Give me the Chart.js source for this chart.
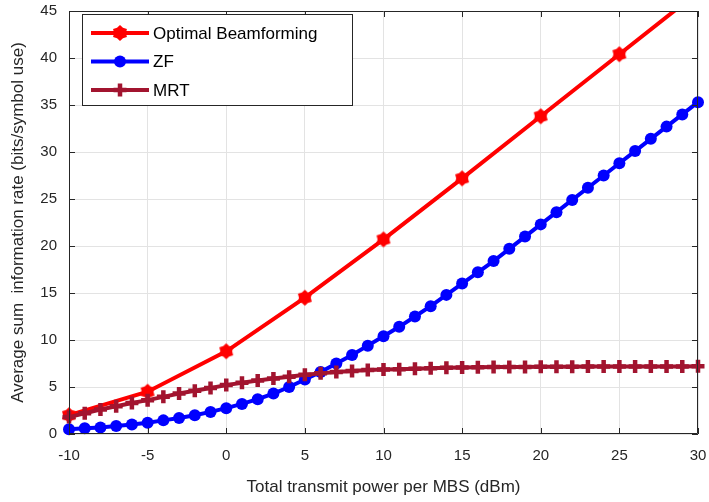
<!DOCTYPE html>
<html>
<head>
<meta charset="utf-8">
<script src="https://cdn.jsdelivr.net/npm/chart.js@4/dist/chart.umd.min.js"></script>
<style>
  html, body { margin: 0; padding: 0; background: #fff; }
  #wrap { width: 709px; height: 502px; }
</style>
</head>
<body>
<div id="wrap"><canvas id="rateChart"></canvas></div>
<script>
const optimalColor = '#FF0000'
const zfColor = '#0000FF'
const mrtColor = '#A2142F'
const axisColor = '#262626'

// data
const seriesNames = ['Optimal Beamforming', 'ZF', 'MRT']
const optimalPower = [-10, -5, 0, 5, 10, 15, 20, 25, 30]
const optimalRate = [2.0, 4.5, 8.8, 14.5, 20.7, 27.2, 33.8, 40.4, 47.0]
const powerDbm = [-10, -9, -8, -7, -6, -5, -4, -3, -2, -1, 0, 1, 2, 3, 4, 5, 6, 7, 8, 9, 10,
  11, 12, 13, 14, 15, 16, 17, 18, 19, 20, 21, 22, 23, 24, 25, 26, 27, 28, 29, 30]
const zfRate = [0.5, 0.6, 0.7, 0.85, 1.0, 1.2, 1.45, 1.7, 2.0, 2.35, 2.75, 3.2, 3.7, 4.3, 5.0,
  5.8, 6.6, 7.5, 8.4, 9.4, 10.4, 11.4, 12.5, 13.6, 14.8, 16.0, 17.2, 18.4, 19.7, 21.0, 22.3,
  23.6, 24.9, 26.2, 27.5, 28.8, 30.1, 31.4, 32.7, 34.0, 35.3]
const mrtRate = [1.8, 2.2, 2.6, 2.95, 3.3, 3.6, 3.95, 4.3, 4.6, 4.9, 5.2, 5.45, 5.7, 5.9, 6.1,
  6.3, 6.45, 6.6, 6.7, 6.8, 6.85, 6.9, 6.95, 7.0, 7.05, 7.08, 7.1, 7.12, 7.13, 7.14, 7.15,
  7.16, 7.16, 7.17, 7.17, 7.18, 7.18, 7.18, 7.19, 7.19, 7.2]
const xTicks = [-10, -5, 0, 5, 10, 15, 20, 25, 30]
const yTicks = [0, 5, 10, 15, 20, 25, 30, 35, 40, 45]

function toPoints(xs, ys) {
  return xs.map((x, i) => ({ x: x, y: ys[i] }))
}

//filled six-point star like matlab's hexagram marker
function hexagram(r, color) {
  const c = document.createElement('canvas')
  const s = Math.ceil(r * 2 + 2)
  c.width = s
  c.height = s
  const g = c.getContext('2d')
  g.fillStyle = color
  g.beginPath()
  for (let i = 0; i < 12; i++) {
    const a = -Math.PI / 2 + i * Math.PI / 6
    const rr = i % 2 === 0 ? r : r * 0.74
    g.lineTo(s / 2 + rr * Math.cos(a), s / 2 + rr * Math.sin(a))
  }
  g.closePath()
  g.fill()
  return c
}
const starMarker = hexagram(8, optimalColor)

// box, inward ticks and legend, drawn after the chart
const matlabAxes = {
  id: 'matlabAxes',
  afterDatasetsDraw(chart) {
    const ctx = chart.ctx
    const a = chart.chartArea
    const xs = chart.scales.x
    const ys = chart.scales.y
    ctx.save()
    ctx.strokeStyle = axisColor
    ctx.lineWidth = 1
    ctx.beginPath()
    ctx.rect(a.left + 0.5, a.top + 0.5, a.right - a.left - 1, a.bottom - a.top - 1)
    xTicks.forEach(v => {
      const px = Math.round(xs.getPixelForValue(v)) + 0.5
      ctx.moveTo(px, a.bottom); ctx.lineTo(px, a.bottom - 6)
      ctx.moveTo(px, a.top); ctx.lineTo(px, a.top + 6)
    })
    yTicks.forEach(v => {
      const py = Math.round(ys.getPixelForValue(v)) + 0.5
      ctx.moveTo(a.left, py); ctx.lineTo(a.left + 6, py)
      ctx.moveTo(a.right, py); ctx.lineTo(a.right - 6, py)
    })
    ctx.stroke()

    // legend
    const lx = 82, ly = 14, lw = 270, lh = 91
    ctx.fillStyle = '#fff'
    ctx.fillRect(lx, ly, lw, lh)
    ctx.strokeRect(lx + 0.5, ly + 0.5, lw, lh)
    const colors = [optimalColor, zfColor, mrtColor]
    ctx.font = '17px "Liberation Sans", Arial, sans-serif'
    ctx.textBaseline = 'middle'
    seriesNames.forEach((name, i) => {
      const y = ly + 19 + i * 28.5
      ctx.strokeStyle = colors[i]
      ctx.lineWidth = 4
      ctx.beginPath()
      ctx.moveTo(lx + 9, y); ctx.lineTo(lx + 67, y)
      ctx.stroke()
      const mx = lx + 38
      if (i === 0) {
        ctx.drawImage(starMarker, mx - starMarker.width / 2, y - starMarker.height / 2)
      } else if (i === 1) {
        ctx.fillStyle = zfColor
        ctx.beginPath(); ctx.arc(mx, y, 6, 0, Math.PI * 2); ctx.fill()
      } else {
        ctx.lineWidth = 4.5
        ctx.beginPath()
        ctx.moveTo(mx - 6.5, y); ctx.lineTo(mx + 6.5, y)
        ctx.moveTo(mx, y - 6.5); ctx.lineTo(mx, y + 6.5)
        ctx.stroke()
      }
      ctx.fillStyle = '#000'
      ctx.fillText(name, lx + 71, y + 1)
    })
    ctx.restore()
  }
}

const tickFont = { family: '"Liberation Sans", Arial, sans-serif', size: 15 }
const titleFont = { family: '"Liberation Sans", Arial, sans-serif', size: 17 }

new Chart(document.getElementById('rateChart'), {
  type: 'line',
  data: {
    datasets: [{
      label: seriesNames[0],
      data: toPoints(optimalPower, optimalRate),
      borderColor: optimalColor,
      backgroundColor: optimalColor,
      borderWidth: 4,
      pointStyle: starMarker,
      order: 2,
      clip: { left: false, top: 0, right: false, bottom: false }
    }, {
      label: seriesNames[1],
      data: toPoints(powerDbm, zfRate),
      borderColor: zfColor,
      backgroundColor: zfColor,
      borderWidth: 4,
      pointStyle: 'circle',
      pointRadius: 6,
      pointBorderWidth: 0,
      order: 1,
      clip: false
    }, {
      label: seriesNames[2],
      data: toPoints(powerDbm, mrtRate),
      borderColor: mrtColor,
      backgroundColor: mrtColor,
      borderWidth: 4,
      pointStyle: 'cross',
      pointRadius: 6.5,
      pointBorderWidth: 4.5,
      order: 0,
      clip: false
    }]
  },
  options: {
    responsive: true,
    maintainAspectRatio: false,
    animation: false,
    layout: { padding: { top: 9, right: 10, left: 0, bottom: 0 } },
    elements: { line: { tension: 0 } },
    scales: {
      x: {
        type: 'linear',
        min: -10,
        max: 30,
        afterFit: s => { s.height = 68; s.paddingLeft = 0; s.paddingRight = 0 },
        afterBuildTicks: s => { s.ticks = xTicks.map(v => ({ value: v })) },
        grid: { color: '#e3e3e3', drawTicks: false },
        border: { display: false },
        ticks: { color: axisColor, font: tickFont, padding: 13, maxRotation: 0 },
        title: { display: true, text: 'Total transmit power per MBS (dBm)', color: axisColor, font: titleFont, padding: { top: 3 } }
      },
      y: {
        min: 0,
        max: 45,
        afterFit: s => { s.width = 69; s.paddingTop = 0; s.paddingBottom = 0 },
        afterBuildTicks: s => { s.ticks = yTicks.map(v => ({ value: v })) },
        grid: { color: '#e3e3e3', drawTicks: false },
        border: { display: false },
        ticks: { color: axisColor, font: tickFont, padding: 12 },
        title: { display: true, text: 'Average sum  information rate (bits/symbol use)', color: axisColor, font: titleFont, padding: { top: 8, bottom: 0 } }
      }
    },
    plugins: {
      legend: { display: false },
      tooltip: { enabled: false }
    }
  },
  plugins: [matlabAxes]
});
</script>
</body>
</html>
